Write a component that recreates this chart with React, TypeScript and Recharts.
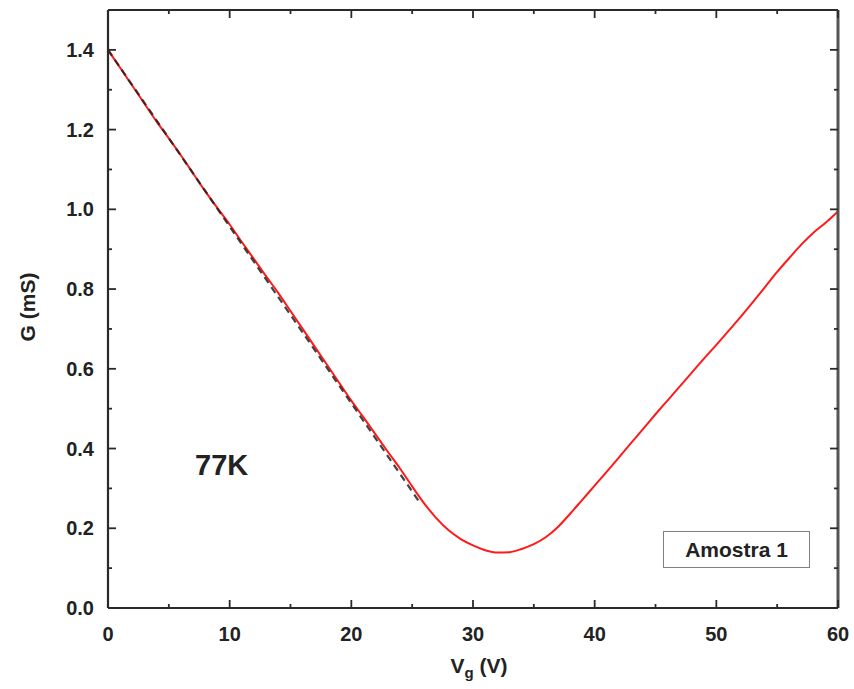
import React from 'react';
import { LineChart, Line, XAxis, YAxis, Legend } from 'recharts';

const vg = [
  0, 1, 2, 3, 4, 5, 6, 7, 8, 9, 10, 11, 12, 13, 14, 15, 16, 17, 18, 19, 20,
  21, 22, 23, 24, 25, 26, 27, 28, 29, 30, 31, 32, 33, 34, 35, 36, 37, 38, 39, 40,
  41, 42, 43, 44, 45, 46, 47, 48, 49, 50, 51, 52, 53, 54, 55, 56, 57, 58, 59, 60,
];
const gMeasured = [
  1.40, 1.355, 1.31, 1.265, 1.22, 1.178, 1.135, 1.09, 1.045, 1.003, 0.962,
  0.918, 0.875, 0.832, 0.79, 0.745, 0.70, 0.655, 0.61, 0.565, 0.52,
  0.478, 0.435, 0.392, 0.35, 0.305, 0.262, 0.225, 0.195, 0.173, 0.157,
  0.145, 0.139, 0.140, 0.148, 0.160, 0.178, 0.204, 0.237, 0.272, 0.307,
  0.342, 0.378, 0.414, 0.45, 0.486, 0.521, 0.556, 0.591, 0.626, 0.66,
  0.695, 0.73, 0.767, 0.805, 0.843, 0.878, 0.912, 0.942, 0.967, 0.995,
];

// linear fit on the hole side (dashed)
const fitVg = [0, 25.5];
const fitG = [1.40, 0.27];

const xTicks = [0, 5, 10, 15, 20, 25, 30, 35, 40, 45, 50, 55, 60];
const yTicks = [0, 0.1, 0.2, 0.3, 0.4, 0.5, 0.6, 0.7, 0.8, 0.9, 1.0, 1.1, 1.2, 1.3, 1.4];

const measured = vg.map((v, i) => ({ vg: v, g: gMeasured[i] }));
const fit = fitVg.map((v, i) => ({ vg: v, g: fitG[i] }));

const FONT = '"Liberation Sans", Arial, sans-serif';
const AXIS = '#2a2a2a';

const isMajorX = (v: number) => v % 10 === 0;
const isMajorY = (v: number) => Math.round(v * 10) % 2 === 0;

const BottomTick = ({ x, y, payload }: any) => {
  const major = isMajorX(payload.value);
  return (
    <g>
      <line x1={x} x2={x} y1={y} y2={y - (major ? 8 : 4)} stroke={AXIS} strokeWidth={1.8} />
      {major && (
        <text x={x} y={y + 33} textAnchor="middle" fontFamily={FONT} fontWeight="bold" fontSize={20} fill="#222">
          {payload.value}
        </text>
      )}
    </g>
  );
};

const TopTick = ({ x, y, payload }: any) => {
  const major = isMajorX(payload.value);
  return <line x1={x} x2={x} y1={y} y2={y + (major ? 8 : 4)} stroke={AXIS} strokeWidth={1.8} />;
};

const LeftTick = ({ x, y, payload }: any) => {
  const major = isMajorY(payload.value);
  return (
    <g>
      <line x1={x} x2={x + (major ? 8 : 4)} y1={y} y2={y} stroke={AXIS} strokeWidth={1.8} />
      {major && (
        <text x={x - 14} y={y + 7} textAnchor="end" fontFamily={FONT} fontWeight="bold" fontSize={20} fill="#222">
          {payload.value.toFixed(1)}
        </text>
      )}
    </g>
  );
};

const RightTick = ({ x, y, payload }: any) => {
  const major = isMajorY(payload.value);
  return <line x1={x} x2={x - (major ? 8 : 4)} y1={y} y2={y} stroke={AXIS} strokeWidth={1.8} />;
};

const SampleLegend = () => (
  <div
    style={{
      width: 145,
      height: 35,
      border: '1.5px solid #808080',
      display: 'flex',
      alignItems: 'center',
      justifyContent: 'center',
      fontFamily: FONT,
      fontWeight: 'bold',
      fontSize: 21,
      color: '#222',
      background: '#fff',
    }}
  >
    Amostra 1
  </div>
);

export default function App() {
  return (
    <div style={{ position: 'absolute', left: 0, top: 0, width: 854, height: 689, background: '#fff' }}>
      <LineChart width={854} height={689} margin={{ top: 9, right: 15, bottom: 41, left: 48 }}>
        <XAxis
          xAxisId="bottom"
          dataKey="vg"
          type="number"
          domain={[0, 60]}
          ticks={xTicks}
          interval={0}
          height={40}
          tickSize={0}
          tickMargin={0}
          tickLine={false}
          axisLine={{ stroke: AXIS, strokeWidth: 2.2 }}
          tick={<BottomTick />}
          label={{
            content: () => (
              <text x={479} y={673} textAnchor="middle" fontFamily={FONT} fontWeight="bold" fontSize={21} fill="#222">
                V<tspan fontSize={15} dy={5}>g</tspan>
                <tspan dy={-5}> (V)</tspan>
              </text>
            ),
          }}
        />
        <XAxis
          xAxisId="top"
          dataKey="vg"
          type="number"
          orientation="top"
          domain={[0, 60]}
          ticks={xTicks}
          interval={0}
          height={1}
          tickSize={0}
          tickMargin={0}
          tickLine={false}
          axisLine={{ stroke: AXIS, strokeWidth: 2.2 }}
          tick={<TopTick />}
        />
        <YAxis
          yAxisId="left"
          type="number"
          domain={[0, 1.5]}
          ticks={yTicks}
          interval={0}
          width={60}
          tickSize={0}
          tickMargin={0}
          tickLine={false}
          axisLine={{ stroke: AXIS, strokeWidth: 2.2 }}
          tick={<LeftTick />}
          label={{
            content: () => (
              <text
                x={35}
                y={307}
                transform="rotate(-90 35 307)"
                textAnchor="middle"
                fontFamily={FONT}
                fontWeight="bold"
                fontSize={21}
                fill="#222"
              >
                G (mS)
              </text>
            ),
          }}
        />
        <YAxis
          yAxisId="right"
          type="number"
          orientation="right"
          domain={[0, 1.5]}
          ticks={yTicks}
          interval={0}
          width={1}
          tickSize={0}
          tickMargin={0}
          tickLine={false}
          axisLine={{ stroke: '#555', strokeWidth: 3 }}
          tick={<RightTick />}
        />
        <Legend
          layout="horizontal"
          verticalAlign="middle"
          align="center"
          content={<SampleLegend />}
          wrapperStyle={{ position: 'absolute', left: 663, top: 531, width: 148, height: 38 }}
        />
        {/* invisible copy so the mirrored top/right axes get data and draw their ticks */}
        <Line
          xAxisId="top"
          yAxisId="right"
          data={measured}
          dataKey="g"
          stroke="none"
          strokeOpacity={0}
          dot={false}
          activeDot={false}
          isAnimationActive={false}
          legendType="none"
        />
        <Line
          xAxisId="bottom"
          yAxisId="left"
          data={measured}
          dataKey="g"
          type="monotone"
          stroke="#ff1a1a"
          strokeWidth={2}
          dot={false}
          isAnimationActive={false}
          legendType="none"
        />
        <Line
          xAxisId="bottom"
          yAxisId="left"
          data={fit}
          dataKey="g"
          type="linear"
          stroke="#222"
          strokeWidth={2.2}
          strokeDasharray="7 5"
          strokeOpacity={0.85}
          dot={false}
          isAnimationActive={false}
          legendType="none"
        />
      </LineChart>
      <div
        style={{
          position: 'absolute',
          left: 195,
          top: 451,
          fontFamily: FONT,
          fontWeight: 'bold',
          fontSize: 29,
          color: '#222',
          lineHeight: 1,
        }}
      >
        77K
      </div>
    </div>
  );
}
